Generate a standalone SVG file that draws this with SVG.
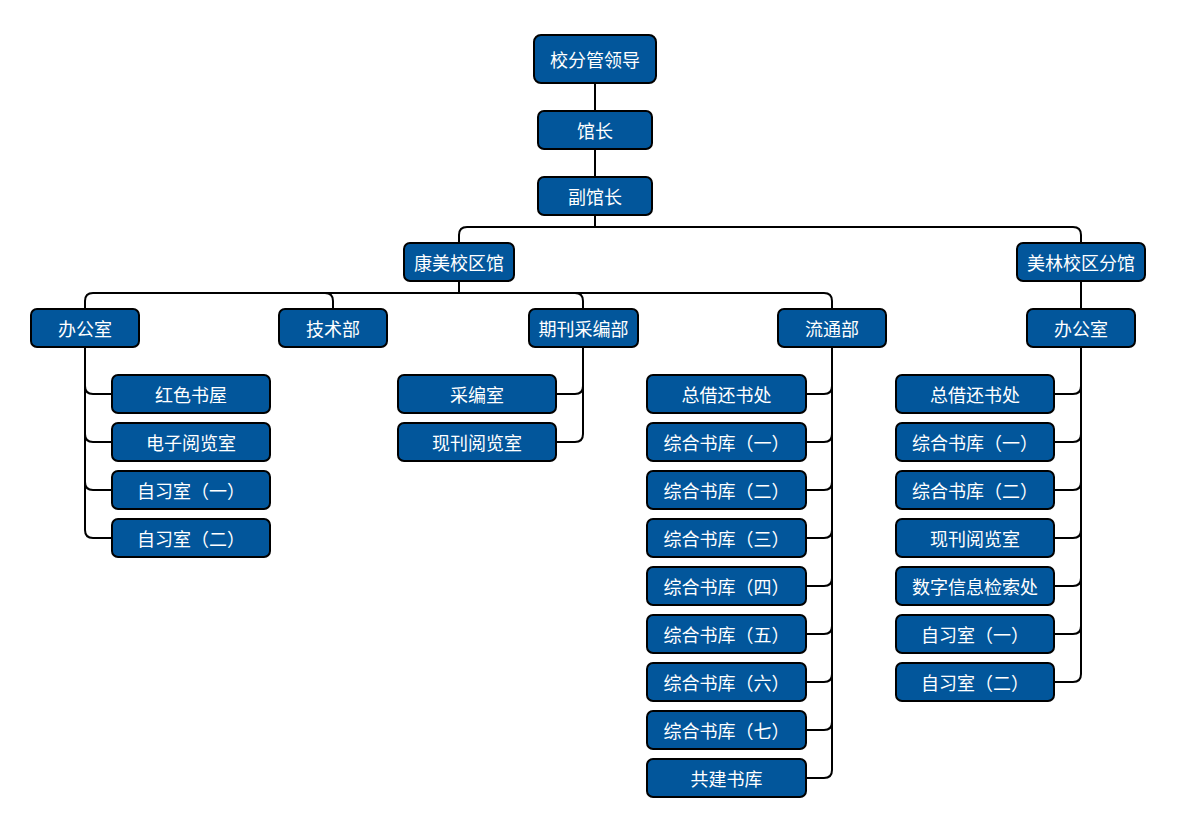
<svg xmlns="http://www.w3.org/2000/svg" width="1194" height="828" viewBox="0 0 1194 828">
<style>
.n rect{fill:#02569b;stroke:#000;stroke-width:2}
.n text{fill:#fff;font-family:"Microsoft YaHei","Noto Sans CJK SC","Noto Sans",sans-serif;font-size:18px;text-anchor:middle;dominant-baseline:central}
#edges path{fill:none;stroke:#000;stroke-width:2}
</style>
<rect width="1194" height="828" fill="#fff"/>
<g id="edges">
<path d="M595,83V111"/>
<path d="M595,149V177"/>
<path d="M595,215V227H467Q459,227 459,235V243"/>
<path d="M595,227H1073Q1081,227 1081,235V243"/>
<path d="M1081,281V309"/>
<path d="M459,281V293H93Q85,293 85,301V309"/>
<path d="M459,293H325Q333,293 333,301V309"/>
<path d="M459,293H575Q583,293 583,301V309"/>
<path d="M459,293H824Q832,293 832,301V309"/>
<path d="M85,347V386Q85,394 93,394H112"/>
<path d="M85,347V434Q85,442 93,442H112"/>
<path d="M85,347V482Q85,490 93,490H112"/>
<path d="M85,347V530Q85,538 93,538H112"/>
<path d="M583,347V386Q583,394 575,394H556"/>
<path d="M583,347V434Q583,442 575,442H556"/>
<path d="M832,347V386Q832,394 824,394H806"/>
<path d="M832,347V434Q832,442 824,442H806"/>
<path d="M832,347V482Q832,490 824,490H806"/>
<path d="M832,347V530Q832,538 824,538H806"/>
<path d="M832,347V578Q832,586 824,586H806"/>
<path d="M832,347V626Q832,634 824,634H806"/>
<path d="M832,347V674Q832,682 824,682H806"/>
<path d="M832,347V722Q832,730 824,730H806"/>
<path d="M832,347V770Q832,778 824,778H806"/>
<path d="M1081,347V386Q1081,394 1073,394H1054"/>
<path d="M1081,347V434Q1081,442 1073,442H1054"/>
<path d="M1081,347V482Q1081,490 1073,490H1054"/>
<path d="M1081,347V530Q1081,538 1073,538H1054"/>
<path d="M1081,347V578Q1081,586 1073,586H1054"/>
<path d="M1081,347V626Q1081,634 1073,634H1054"/>
<path d="M1081,347V674Q1081,682 1073,682H1054"/>
</g>
<g id="n1" class="n"><rect x="534" y="35" width="122" height="48" rx="7"/><text x="595" y="59">校分管领导</text></g>
<g id="n2" class="n"><rect x="538" y="111" width="114" height="38" rx="6"/><text x="595" y="130">馆长</text></g>
<g id="n3" class="n"><rect x="538" y="177" width="114" height="38" rx="6"/><text x="595" y="196">副馆长</text></g>
<g id="n4" class="n"><rect x="404" y="243" width="110" height="38" rx="6"/><text x="459" y="262">康美校区馆</text></g>
<g id="n5" class="n"><rect x="1017" y="243" width="128" height="38" rx="6"/><text x="1081" y="262">美林校区分馆</text></g>
<g id="n6" class="n"><rect x="31" y="309" width="108" height="38" rx="6"/><text x="85" y="328">办公室</text></g>
<g id="n7" class="n"><rect x="279" y="309" width="108" height="38" rx="6"/><text x="333" y="328">技术部</text></g>
<g id="n8" class="n"><rect x="529" y="309" width="109" height="38" rx="6"/><text x="583.5" y="328">期刊采编部</text></g>
<g id="n9" class="n"><rect x="778" y="309" width="108" height="38" rx="6"/><text x="832" y="328">流通部</text></g>
<g id="n10" class="n"><rect x="1027" y="309" width="108" height="38" rx="6"/><text x="1081" y="328">办公室</text></g>
<g id="a1" class="n"><rect x="112" y="375" width="158" height="38" rx="6"/><text x="191" y="394">红色书屋</text></g>
<g id="a2" class="n"><rect x="112" y="423" width="158" height="38" rx="6"/><text x="191" y="442">电子阅览室</text></g>
<g id="a3" class="n"><rect x="112" y="471" width="158" height="38" rx="6"/><text x="191" y="490">自习室（一）</text></g>
<g id="a4" class="n"><rect x="112" y="519" width="158" height="38" rx="6"/><text x="191" y="538">自习室（二）</text></g>
<g id="b1" class="n"><rect x="398" y="375" width="158" height="38" rx="6"/><text x="477" y="394">采编室</text></g>
<g id="b2" class="n"><rect x="398" y="423" width="158" height="38" rx="6"/><text x="477" y="442">现刊阅览室</text></g>
<g id="c1" class="n"><rect x="647" y="375" width="159" height="38" rx="6"/><text x="726.5" y="394">总借还书处</text></g>
<g id="c2" class="n"><rect x="647" y="423" width="159" height="38" rx="6"/><text x="726.5" y="442">综合书库（一）</text></g>
<g id="c3" class="n"><rect x="647" y="471" width="159" height="38" rx="6"/><text x="726.5" y="490">综合书库（二）</text></g>
<g id="c4" class="n"><rect x="647" y="519" width="159" height="38" rx="6"/><text x="726.5" y="538">综合书库（三）</text></g>
<g id="c5" class="n"><rect x="647" y="567" width="159" height="38" rx="6"/><text x="726.5" y="586">综合书库（四）</text></g>
<g id="c6" class="n"><rect x="647" y="615" width="159" height="38" rx="6"/><text x="726.5" y="634">综合书库（五）</text></g>
<g id="c7" class="n"><rect x="647" y="663" width="159" height="38" rx="6"/><text x="726.5" y="682">综合书库（六）</text></g>
<g id="c8" class="n"><rect x="647" y="711" width="159" height="38" rx="6"/><text x="726.5" y="730">综合书库（七）</text></g>
<g id="c9" class="n"><rect x="647" y="759" width="159" height="38" rx="6"/><text x="726.5" y="778">共建书库</text></g>
<g id="d1" class="n"><rect x="896" y="375" width="158" height="38" rx="6"/><text x="975" y="394">总借还书处</text></g>
<g id="d2" class="n"><rect x="896" y="423" width="158" height="38" rx="6"/><text x="975" y="442">综合书库（一）</text></g>
<g id="d3" class="n"><rect x="896" y="471" width="158" height="38" rx="6"/><text x="975" y="490">综合书库（二）</text></g>
<g id="d4" class="n"><rect x="896" y="519" width="158" height="38" rx="6"/><text x="975" y="538">现刊阅览室</text></g>
<g id="d5" class="n"><rect x="896" y="567" width="158" height="38" rx="6"/><text x="975" y="586">数字信息检索处</text></g>
<g id="d6" class="n"><rect x="896" y="615" width="158" height="38" rx="6"/><text x="975" y="634">自习室（一）</text></g>
<g id="d7" class="n"><rect x="896" y="663" width="158" height="38" rx="6"/><text x="975" y="682">自习室（二）</text></g>
</svg>
